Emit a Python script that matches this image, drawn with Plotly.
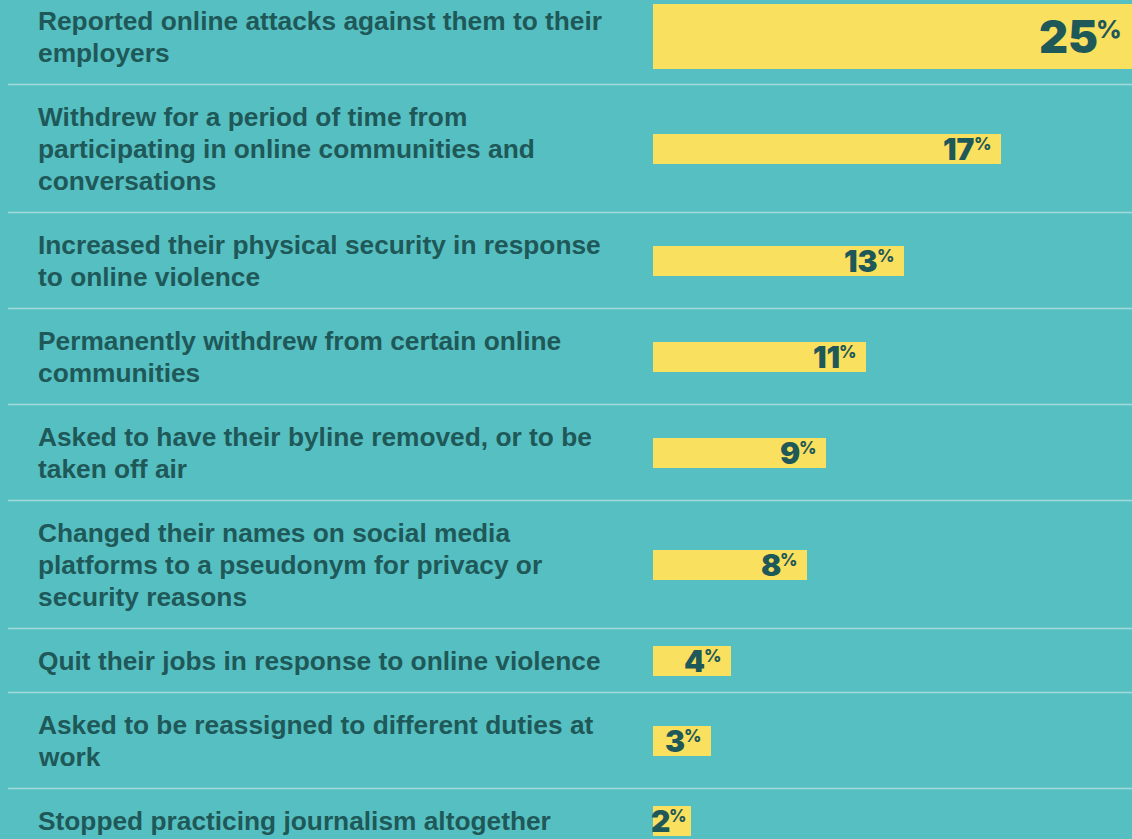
import plotly.graph_objects as go

labels = [
    "Reported online attacks against them to their<br>employers",
    "Withdrew for a period of time from<br>participating in online communities and<br>conversations",
    "Increased their physical security in response<br>to online violence",
    "Permanently withdrew from certain online<br>communities",
    "Asked to have their byline removed, or to be<br>taken off air",
    "Changed their names on social media<br>platforms to a pseudonym for privacy or<br>security reasons",
    "Quit their jobs in response to online violence",
    "Asked to be reassigned to different duties at<br>work",
    "Stopped practicing journalism altogether",
]
pct_labels = [25, 17, 13, 11, 9, 8, 4, 3, 2]
# bar lengths
bar_values = [25.0, 18.15, 13.1, 11.1, 9.05, 8.05, 4.05, 3.05, 2.0]

BG = "#56BFC1"
BAR = "#F9E05E"
TXT = "#1F5858"
SEP = "#A4DADB"
LABEL_FONT = "Liberation Sans, Arial, sans-serif"
NUM_FONT = "Inter, Liberation Sans, sans-serif"

LINE_H = 32
PAD = 32
line_lists = [l.split("<br>") for l in labels]
heights = [LINE_H * len(ls) + PAD for ls in line_lists]
centers, bounds = [], []
acc = 0
for h in heights:
    centers.append(acc + h / 2)
    acc += h
    bounds.append(acc)
bar_thick = [65] + [30] * (len(labels) - 1)

W, H = 1132, 839
X0 = 653
SCALE = 19.15
x_range = [-X0 / SCALE, (W - X0) / SCALE]
y_off = 11.5
y_range = [H + y_off, y_off]

fig = go.Figure()
fig.add_trace(go.Bar(
    x=bar_values, y=centers, width=bar_thick, orientation="h",
    marker=dict(color=BAR, line=dict(width=0)),
    hoverinfo="skip",
))

anns = []
for ls, c in zip(line_lists, centers):
    n = len(ls)
    for j, line in enumerate(ls):
        anns.append(dict(
            x=36 / W, xref="paper", y=c + (j - (n - 1) / 2) * LINE_H, yref="y",
            text=line, showarrow=False, xanchor="left", yanchor="middle", align="left",
            font=dict(family=LABEL_FONT, size=26.3, color=TXT, weight="bold"),
        ))

for i, (v, p, c) in enumerate(zip(bar_values, pct_labels, centers)):
    big = i == 0
    num_fs = 45 if big else 30
    pct_fs = 25 if big else 17
    pct_w = 24 if big else 17
    digit_w = 0.62 * num_fs * len(str(p))
    bar_px = v * SCALE
    pad = 8 if big else min(7, max(1, bar_px - digit_w - pct_w))
    anns.append(dict(
        x=v, xref="x", y=c, yref="y", text=str(p), showarrow=False,
        xanchor="right", yanchor="middle", xshift=-(pad + pct_w), yshift=0,
        font=dict(family=NUM_FONT, size=num_fs, color=TXT, weight=900),
    ))
    anns.append(dict(
        x=v, xref="x", y=c, yref="y", text="%", showarrow=False,
        xanchor="right", yanchor="middle", xshift=-pad, yshift=(8 if big else 5),
        font=dict(family=NUM_FONT, size=pct_fs, color=TXT, weight=800),
    ))

shapes = []
for b in bounds[:-1]:
    shapes.append(dict(type="line", xref="paper", x0=8 / W, x1=1, yref="y", y0=b, y1=b,
                       line=dict(color=SEP, width=1.5), layer="below"))

fig.update_layout(
    width=W, height=H, margin=dict(l=0, r=0, t=0, b=0),
    paper_bgcolor=BG, plot_bgcolor=BG, showlegend=False,
    xaxis=dict(range=x_range, visible=False, fixedrange=True),
    yaxis=dict(range=y_range, visible=False, fixedrange=True),
    annotations=anns, shapes=shapes, bargap=0,
)
fig.write_html("out.html", config={"displayModeBar": False},
               post_script="document.body.style.margin='0';document.body.style.background='" + BG + "';")
